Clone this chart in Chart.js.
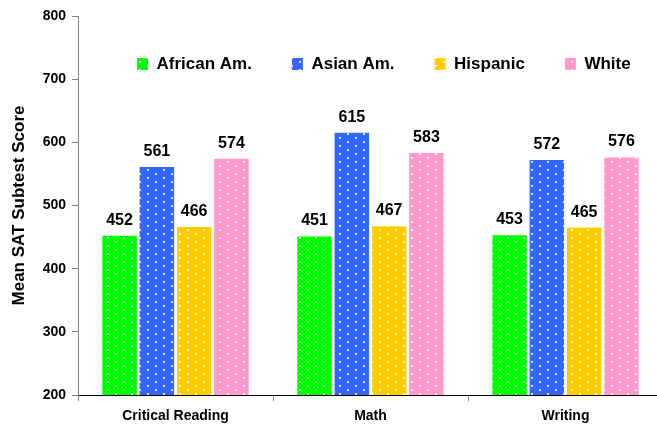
<!DOCTYPE html>
<html>
<head>
<meta charset="utf-8">
<script src="https://cdn.jsdelivr.net/npm/chart.js@4"></script>
<style>
  html, body { margin: 0; padding: 0; background: #fff; overflow: hidden; }
  #wrap { width: 657px; height: 427px; overflow: hidden; }
</style>
</head>
<body>
<div id="wrap"><canvas id="satChart" width="665" height="427"></canvas></div>
<script>
var categories = ["Critical Reading", "Math", "Writing"];
var africanAm = [452, 451, 453];
var asianAm = [561, 615, 572];
var hispanic = [466, 467, 465];
var white = [574, 583, 576];
var seriesNames = ["African Am.", "Asian Am.", "Hispanic", "White"];

var FONT = "'Liberation Sans', Arial, sans-serif";

// dotted fill like the old excel bars
function dotted(color) {
      var c = document.createElement("canvas");
      c.width = 16;
      c.height = 8;
      var g = c.getContext("2d");
      g.fillStyle = color;
      g.fillRect(0, 0, 16, 8);
      g.fillStyle = "rgba(255,255,255,0.8)";
      g.fillRect(3, 1, 2, 2);
      g.fillRect(11, 5, 2, 2);
      return g.createPattern(c, "repeat");
}

var valueLabels = {
      id: "valueLabels",
      afterDatasetsDraw: function(chart) {
            var ctx = chart.ctx;
            ctx.save();
            ctx.font = "bold 16px " + FONT;
            ctx.fillStyle = "#000";
            ctx.textAlign = "center";
            ctx.textBaseline = "alphabetic";
            chart.data.datasets.forEach(function(ds, i) {
                  chart.getDatasetMeta(i).data.forEach(function(bar, j) {
                        ctx.fillText(ds.data[j], bar.x, bar.y - 11);
                  });
            });
            ctx.restore();
      }
};

// put the legend inside the plot area (it only takes 1px in the layout)
var legendSpot = {
      id: "legendSpot",
      afterLayout: function(chart) {
            var lg = chart.legend;
            lg.maxWidth = 1000;
            lg.fit();
            lg.left = 97;
            lg.right = 900;
            lg.width = lg.right - lg.left;
            lg.top = 15.5;
            lg.height = 70;
            lg.bottom = lg.top + lg.height;
      }
};

var ctx = document.getElementById("satChart").getContext("2d");

new Chart(ctx, {
      type: "bar",
      data: {
            labels: categories,
            datasets: [
                  { label: seriesNames[0], data: africanAm, backgroundColor: dotted("#00ff00") },
                  { label: seriesNames[1], data: asianAm, backgroundColor: dotted("#3366ff") },
                  { label: seriesNames[2], data: hispanic, backgroundColor: dotted("#ffcc00") },
                  { label: seriesNames[3], data: white, backgroundColor: dotted("#ff99cc") }
            ]
      },
      options: {
            responsive: false,
            animation: false,
            categoryPercentage: 0.765,
            barPercentage: 0.925,
            layout: { padding: { top: 15, right: 2, bottom: 0, left: 0 } },
            plugins: {
                  legend: {
                        position: "top",
                        align: "start",
                        maxHeight: 1,
                        labels: {
                              boxWidth: 11,
                              boxHeight: 12,
                              padding: 40,
                              color: "#000",
                              font: { family: FONT, size: 17, weight: "bold" }
                        }
                  },
                  tooltip: { enabled: false }
            },
            scales: {
                  x: {
                        grid: { drawOnChartArea: false, offset: true, tickLength: 6, color: "#808080" },
                        border: { color: "#000", width: 1 },
                        ticks: { color: "#000", padding: 7, font: { family: FONT, size: 14, weight: "bold" } },
                        afterFit: function(scale) { scale.height = 32; }
                  },
                  y: {
                        min: 200,
                        max: 800,
                        ticks: { stepSize: 100, color: "#000", padding: 6, font: { family: FONT, size: 14, weight: "bold" } },
                        grid: { drawOnChartArea: false, tickLength: 6, color: "#808080" },
                        border: { color: "#808080", width: 1 },
                        title: {
                              display: true,
                              text: "Mean SAT Subtest Score",
                              color: "#000",
                              padding: { top: 9, bottom: 0 },
                              font: { family: FONT, size: 17, weight: "bold" }
                        },
                        afterFit: function(scale) { scale.width = 78; }
                  }
            }
      },
      plugins: [valueLabels, legendSpot]
});
</script>
</body>
</html>
